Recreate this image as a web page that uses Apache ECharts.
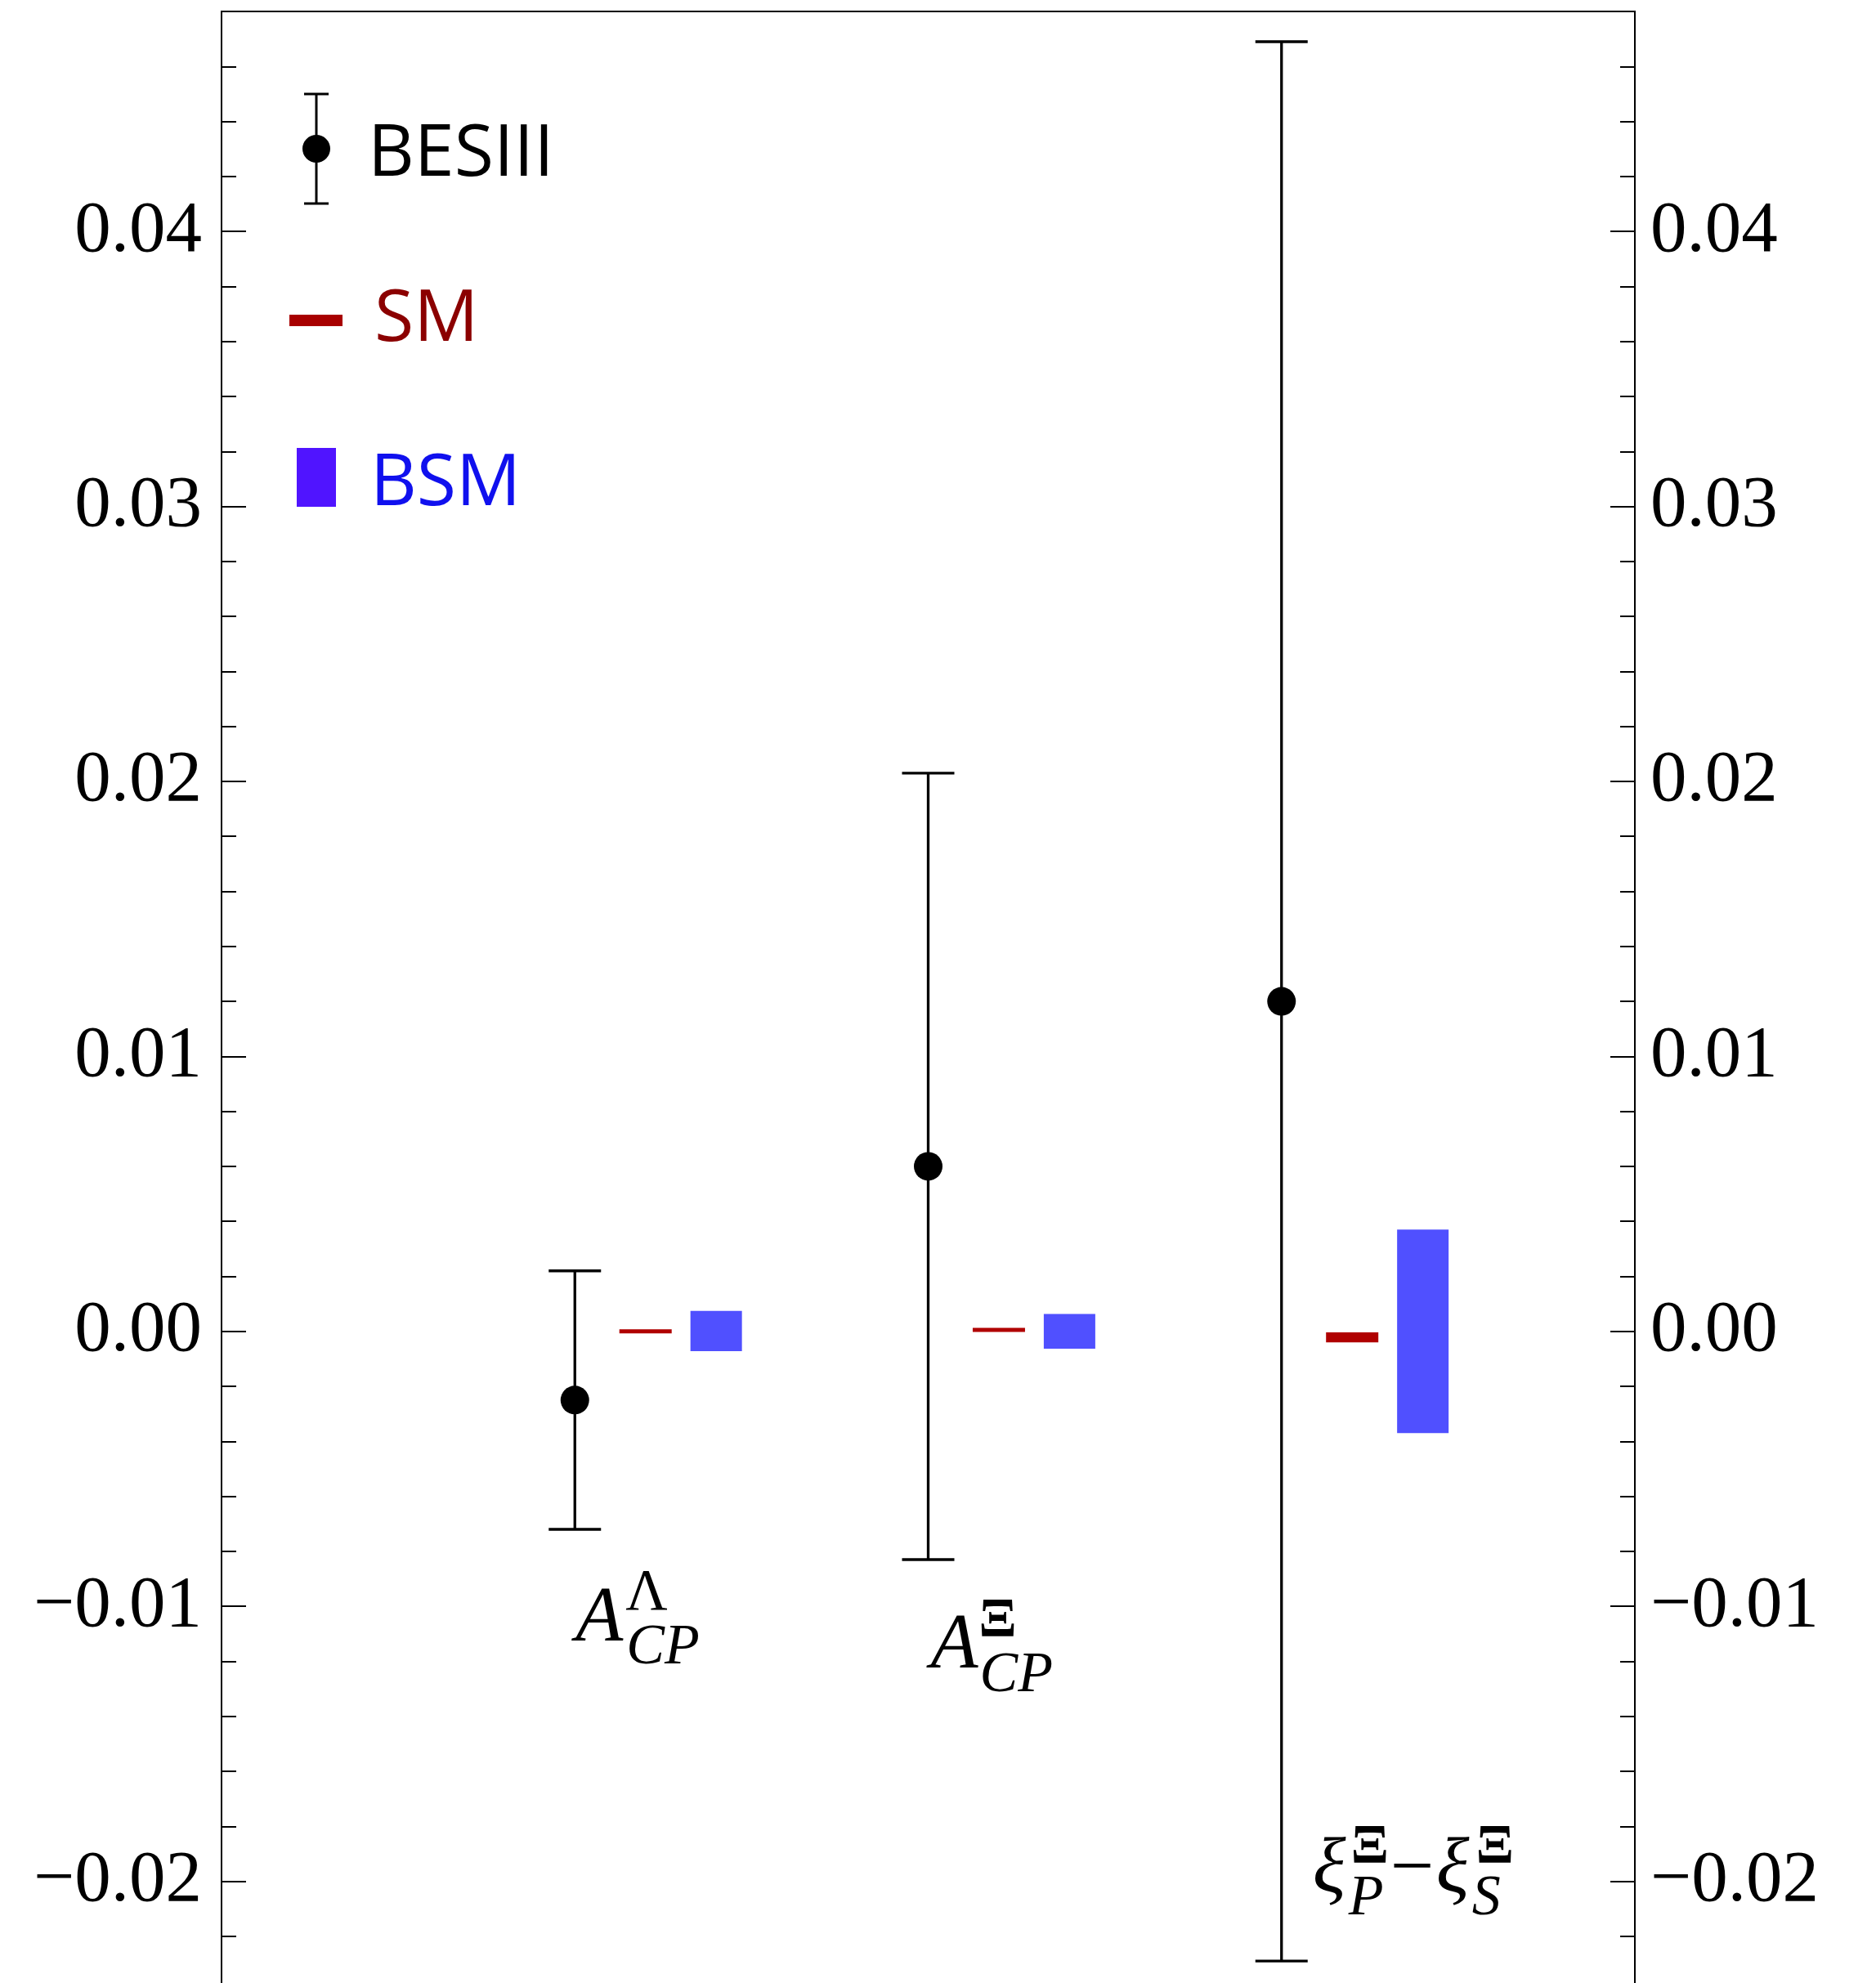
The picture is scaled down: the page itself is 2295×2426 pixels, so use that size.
<!DOCTYPE html>
<html>
<head>
<meta charset="utf-8">
<script src="https://cdn.jsdelivr.net/npm/echarts@6/dist/echarts.min.js"></script>
<style>
  html, body { margin: 0; padding: 0; background: #fff; }
  #chart { width: 2295px; height: 2426px; }
</style>
</head>
<body>
<div id="chart"></div>
<script>
// observables along the (hidden) x axis
const positions = [1, 2, 3]

// BESIII measurements: central value and error-bar ends
const besiiiValue = [-0.0025, 0.0060, 0.0120]
const besiiiLow = [-0.0072, -0.0083, -0.0229]
const besiiiHigh = [0.0022, 0.0203, 0.0469]

// SM predictions (thin bands)
const smLow = [-0.00007, -0.00002, -0.00040]
const smHigh = [0.00007, 0.00013, -0.00004]

// BSM ranges
const bsmLow = [-0.00072, -0.00063, -0.0037]
const bsmHigh = [0.00074, 0.00063, 0.0037]

// where the observable names sit (baseline, in y units)
const labelValue = [-0.01144, -0.01243, -0.02057]

// y axis
const yMin = -0.03
const yMax = 0.048
const yMajor = 0.01
const yMinor = 0.002

const SERIF = '"Liberation Serif", "Times New Roman", serif'
const SANS = '"Open Sans", "Noto Sans", sans-serif'

// pieces of each math label: text, x offset, baseline offset (px), size, italic, bold
const labelPieces = [
  [
    { t: 'A', dx: 1, dy: 0, size: 95, italic: true },
    { t: 'Λ', dx: 62, dy: -39, size: 71 },
    { t: 'CP', dx: 63, dy: 27, size: 70, italic: true }
  ],
  [
    { t: 'A', dx: 3, dy: 0, size: 95, italic: true },
    { t: 'Ξ', dx: 62, dy: -41, size: 68, bold: true },
    { t: 'CP', dx: 63, dy: 27, size: 70, italic: true }
  ],
  [
    { t: 'ξ', dx: 38, dy: 0, size: 95, italic: true },
    { t: 'Ξ', dx: 85, dy: -37, size: 68, bold: true },
    { t: 'P', dx: 82, dy: 26, size: 70, italic: true },
    { t: '−', dx: 133, dy: 0, size: 95 },
    { t: 'ξ', dx: 189, dy: 0, size: 95, italic: true },
    { t: 'Ξ', dx: 238, dy: -37, size: 68, bold: true },
    { t: 'S', dx: 233, dy: 26, size: 70, italic: true }
  ]
]

function fmtTick(v) {
  const k = Math.round(v / yMajor)
  if (Math.abs(v / yMajor - k) > 1e-6) return ''
  return (k < 0 ? '−' : '') + Math.abs(k * yMajor).toFixed(2)
}

function yAxisDef(pos, major) {
  return {
    type: 'value',
    position: pos,
    min: yMin,
    max: yMax,
    interval: major ? yMajor : yMinor,
    axisLine: { show: false },
    splitLine: { show: false },
    axisTick: {
      show: true,
      inside: true,
      length: major ? 30 : 18,
      lineStyle: { color: '#000', width: 2 }
    },
    axisLabel: {
      show: major,
      showMaxLabel: false,
      margin: pos === 'left' ? 24 : 19,
      color: '#000',
      fontFamily: SERIF,
      fontSize: 89,
      formatter: fmtTick
    }
  }
}

function renderBesiii(params, api) {
  const x = api.value(0)
  const mid = api.coord([x, api.value(1)])
  const lo = api.coord([x, api.value(2)])
  const hi = api.coord([x, api.value(3)])
  const st = { stroke: '#000', lineWidth: 3.3 }
  return {
    type: 'group',
    children: [
      { type: 'line', shape: { x1: hi[0], y1: hi[1], x2: lo[0], y2: lo[1] }, style: st },
      { type: 'line', shape: { x1: hi[0] - 32, y1: hi[1], x2: hi[0] + 32, y2: hi[1] }, style: st },
      { type: 'line', shape: { x1: lo[0] - 32, y1: lo[1], x2: lo[0] + 32, y2: lo[1] }, style: st },
      { type: 'circle', shape: { cx: mid[0], cy: mid[1], r: 17.5 }, style: { fill: '#000' } }
    ]
  }
}

function bandRenderer(offset, w, minH, color) {
  return function (params, api) {
    const x = api.value(0) + offset
    const top = api.coord([x, api.value(2)])
    const bot = api.coord([x, api.value(1)])
    let y = top[1]
    let h = bot[1] - top[1]
    if (h < minH) {
      y -= (minH - h) / 2
      h = minH
    }
    return {
      type: 'rect',
      shape: { x: top[0] - w / 2, y: y, width: w, height: h },
      style: { fill: color }
    }
  }
}

function renderLabel(params, api) {
  const p = api.coord([api.value(0), api.value(1)])
  const pieces = labelPieces[params.dataIndex]
  return {
    type: 'group',
    children: pieces.map(function (pc) {
      return {
        type: 'text',
        x: p[0] + pc.dx,
        y: p[1] + pc.dy - 0.3375 * pc.size,
        style: {
          text: pc.t,
          font: (pc.italic ? 'italic ' : '') + (pc.bold ? 'bold ' : '') + pc.size + 'px ' + SERIF,
          fill: '#000',
          align: 'left',
          verticalAlign: 'middle'
        }
      }
    })
  }
}

const chart = echarts.init(document.getElementById('chart'))

// legend drawn by hand (top-left corner of the frame)
const legendGraphic = [
  { type: 'line', shape: { x1: 387, y1: 115, x2: 387, y2: 249 }, style: { stroke: '#000', lineWidth: 3 } },
  { type: 'line', shape: { x1: 372, y1: 115, x2: 402, y2: 115 }, style: { stroke: '#000', lineWidth: 3 } },
  { type: 'line', shape: { x1: 372, y1: 249, x2: 402, y2: 249 }, style: { stroke: '#000', lineWidth: 3 } },
  { type: 'circle', shape: { cx: 387, cy: 182, r: 17 }, style: { fill: '#000' } },
  { type: 'text', x: 450, y: 224 - 0.39 * 88, style: { text: 'BESIII', font: '88px ' + SANS, fill: '#000', verticalAlign: 'middle' } },
  { type: 'rect', shape: { x: 354, y: 385, width: 65, height: 14 }, style: { fill: '#A80000' } },
  { type: 'text', x: 458, y: 426 - 0.39 * 88, style: { text: 'SM', font: '88px ' + SANS, fill: '#8B0000', verticalAlign: 'middle' } },
  { type: 'rect', shape: { x: 363, y: 548, width: 48, height: 72 }, style: { fill: '#5014FF' } },
  { type: 'text', x: 453, y: 627 - 0.39 * 88, style: { text: 'BSM', font: '88px ' + SANS, fill: '#1010EE', verticalAlign: 'middle' } }
]

chart.setOption({
  animation: false,
  backgroundColor: '#fff',
  grid: {
    left: 271,
    top: 14,
    width: 1729,
    height: 2624,
    containLabel: false,
    outerBoundsMode: 'none',
    show: true,
    borderColor: '#000',
    borderWidth: 2,
    backgroundColor: 'transparent'
  },
  xAxis: { type: 'value', min: 0, max: 4, show: false },
  yAxis: [
    yAxisDef('left', true),
    yAxisDef('left', false),
    yAxisDef('right', true),
    yAxisDef('right', false)
  ],
  graphic: legendGraphic,
  series: [
    {
      name: 'SM',
      type: 'custom',
      renderItem: bandRenderer(0.2, 64, 5, '#B00000'),
      data: positions.map((x, i) => [x, smLow[i], smHigh[i]])
    },
    {
      name: 'BSM',
      type: 'custom',
      renderItem: bandRenderer(0.4, 63, 2, '#5050FF'),
      data: positions.map((x, i) => [x, bsmLow[i], bsmHigh[i]])
    },
    {
      name: 'BESIII',
      type: 'custom',
      renderItem: renderBesiii,
      data: positions.map((x, i) => [x, besiiiValue[i], besiiiLow[i], besiiiHigh[i]])
    },
    {
      name: 'labels',
      type: 'custom',
      silent: true,
      renderItem: renderLabel,
      data: positions.map((x, i) => [x, labelValue[i]])
    }
  ]
})
</script>
</body>
</html>
